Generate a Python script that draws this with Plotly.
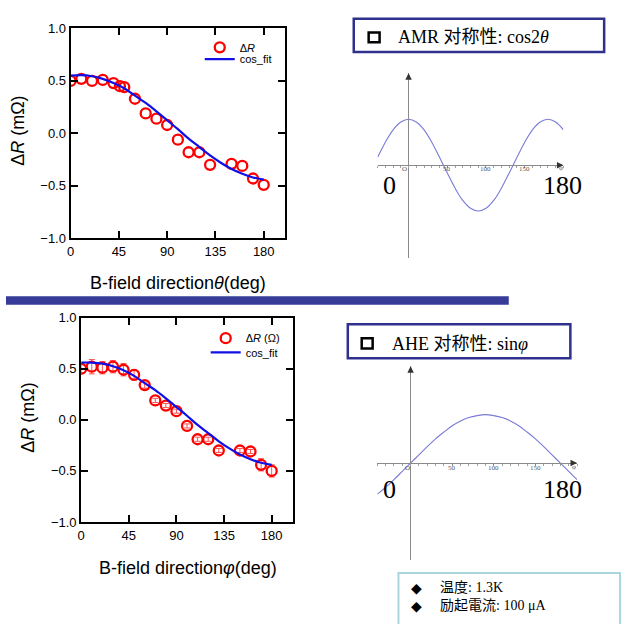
import plotly.graph_objects as go

W, H = 628, 624
def px(x): return x / W
def py(y): return 1 - y / H

# ---------------- data ----------------
theta_top = [0, 10, 20, 30, 40, 46, 50, 60, 70, 80, 90, 100, 110, 120, 130, 150, 160, 170, 180]
dr_top = [0.50, 0.52, 0.50, 0.51, 0.48, 0.45, 0.44, 0.33, 0.19, 0.14, 0.08, -0.06, -0.18, -0.18,
          -0.30, -0.29, -0.31, -0.43, -0.49]

phi_bot = [0, 10, 20, 30, 40, 50, 60, 70, 80, 90, 100, 110, 120, 130, 150, 160, 170, 180]
dr_bot = [0.50, 0.52, 0.51, 0.52, 0.49, 0.44, 0.34, 0.19, 0.14, 0.085, -0.06, -0.19, -0.19,
          -0.30, -0.30, -0.31, -0.44, -0.50]
err_bot = [0.04, 0.07, 0.06, 0.06, 0.06, 0.05, 0.03, 0.02, 0.02, 0.02, 0.02, 0.02, 0.02,
           0.02, 0.02, 0.02, 0.06, 0.06]

fit_angle = [0, 10, 20, 30, 40, 50, 60, 70, 80, 90, 100, 110, 120, 130, 140, 150, 160, 170, 180]
fit_top = [0.55, 0.555, 0.545, 0.52, 0.48, 0.43, 0.36, 0.29, 0.21, 0.125, 0.04, -0.05, -0.13,
           -0.21, -0.28, -0.34, -0.385, -0.42, -0.44]
fit_bot = [0.56, 0.56, 0.55, 0.525, 0.485, 0.43, 0.36, 0.29, 0.21, 0.125, 0.04, -0.05, -0.13,
           -0.21, -0.28, -0.34, -0.385, -0.42, -0.44]

y_ticks = [-1.0, -0.5, 0.0, 0.5, 1.0]
deg_ticks = [0, 45, 90, 135, 180]

schem_angle = [-40, -30, -20, -10, 0, 10, 20, 30, 40, 50, 60, 70, 80, 90, 100, 110, 120,
               130, 140, 150, 160, 170, 180, 190, 200]
amr_curve = [0.17, 0.5, 0.77, 0.94, 1.0, 0.94, 0.77, 0.5, 0.17, -0.17, -0.5, -0.77, -0.94,
             -1.0, -0.94, -0.77, -0.5, -0.17, 0.17, 0.5, 0.77, 0.94, 1.0, 0.94, 0.77]
ahe_curve = [-0.64, -0.5, -0.34, -0.17, 0.0, 0.17, 0.34, 0.5, 0.64, 0.77, 0.87, 0.94, 0.98,
             1.0, 0.98, 0.94, 0.87, 0.77, 0.64, 0.5, 0.34, 0.17, 0.0, -0.17, -0.34]
schem_ticks = [50, 100, 150]
schem_tick_text = ["50", "100", "150"]

info_lines = ["温度: 1.3K", "励起電流: 100 μA"]

RED = "#ff0000"
BLUE = "#1010e6"
SANS = "Liberation Sans, Arial"
SERIF = "Liberation Serif, Noto Sans CJK SC"

fig = go.Figure()

mk = dict(symbol="circle-open", size=10, color=RED, line=dict(width=2.3, color=RED))

# ---- top-left data plot ----
fig.add_trace(go.Scatter(x=theta_top, y=dr_top, mode="markers", name="Δ<i>R</i>", marker=mk,
                         xaxis="x", yaxis="y", legend="legend"))
fig.add_trace(go.Scatter(x=fit_angle, y=fit_top, mode="lines", name="cos_fit", line_shape="spline",
                         line=dict(color=BLUE, width=2.2), xaxis="x", yaxis="y", legend="legend3"))

# ---- bottom-left data plot ----
fig.add_trace(go.Scatter(x=phi_bot, y=dr_bot, mode="markers", name="Δ<i>R</i> (Ω)",
                         error_y=dict(type="data", array=err_bot, color="#ff5050", thickness=1, width=3),
                         marker=mk, xaxis="x2", yaxis="y2", legend="legend2"))
fig.add_trace(go.Scatter(x=fit_angle, y=fit_bot, mode="lines", name="cos_fit", line_shape="spline",
                         line=dict(color=BLUE, width=2.2), xaxis="x2", yaxis="y2", legend="legend4"))

# ---- schematic curves ----
fig.add_trace(go.Scatter(x=schem_angle, y=amr_curve, mode="lines", line_shape="spline",
                         line=dict(color="#7a7ad8", width=1.1), xaxis="x3", yaxis="y3", showlegend=False))
fig.add_trace(go.Scatter(x=schem_angle, y=ahe_curve, mode="lines", line_shape="spline",
                         line=dict(color="#7a7ad8", width=1.1), xaxis="x4", yaxis="y4", showlegend=False))

data_x = dict(range=[0, 200], tickvals=deg_ticks, ticks="inside", ticklen=7, tickwidth=1.6,
              tickcolor="black", showline=True, linewidth=2, linecolor="black", mirror="ticks",
              showgrid=False, zeroline=False, tickfont=dict(family=SANS, size=13, color="black"))
data_y = dict(range=[-1, 1], tickvals=y_ticks, tickformat=".1f", ticks="inside", ticklen=7,
              tickwidth=1.6, tickcolor="black", showline=True, linewidth=2, linecolor="black",
              mirror="ticks", showgrid=False, zeroline=False,
              tickfont=dict(family=SANS, size=13, color="black"))

schem_x = dict(range=[-40, 200], showline=True, linecolor="#8a8a8a", linewidth=1.3,
               tickvals=schem_ticks, ticks="outside", ticklen=2, tickwidth=1, tickcolor="#8a8a8a",
               minor=dict(dtick=10, ticks="outside", ticklen=2, tickcolor="#a0a0a0"),
               showticklabels=False, showgrid=False, zeroline=False, anchor="free")
schem_y = dict(showline=True, linecolor="#8a8a8a", linewidth=1.3, showticklabels=False,
               ticks="", showgrid=False, zeroline=False, anchor="free")

leg = dict(xanchor="left", yanchor="top", tracegroupgap=0,
           font=dict(family=SANS, size=11, color="black"), bgcolor="rgba(0,0,0,0)")

fig.update_layout(
    width=W, height=H, margin=dict(l=0, r=0, t=0, b=0),
    paper_bgcolor="white", plot_bgcolor="rgba(0,0,0,0)",
    xaxis=dict(domain=[px(67), px(283)], anchor="y", **data_x),
    yaxis=dict(domain=[py(237), py(22)], anchor="x", **data_y),
    xaxis2=dict(domain=[px(77.7), px(290.7)], anchor="y2", **data_x),
    yaxis2=dict(domain=[py(527.7), py(318.3)], anchor="x2", **data_y),
    xaxis3=dict(domain=[px(376), px(563)], position=py(162), **schem_x),
    yaxis3=dict(domain=[py(257), py(68)], range=[-2.02, 2.0], position=px(407), **schem_y),
    xaxis4=dict(domain=[px(375.7), px(576.7)], position=py(467.3), **schem_x),
    yaxis4=dict(domain=[py(566.7), py(368)], range=[-2.0, 2.0], position=px(409), **schem_y),
    legend=dict(x=px(197), y=py(26.5), **leg),
    legend3=dict(x=px(197), y=py(38.5), **leg),
    legend2=dict(x=px(203), y=py(324.5), **leg),
    legend4=dict(x=px(203), y=py(339), **leg),
)

shapes = [
    # divider bar
    dict(type="rect", xref="paper", yref="paper", x0=px(2), x1=px(508), y0=py(305), y1=py(296.5),
         fillcolor="#363c98", line=dict(width=0)),
    # AMR box
    dict(type="rect", xref="paper", yref="paper", x0=px(352), x1=px(604), y0=py(46), y1=py(12),
         line=dict(color="#30308e", width=2.5)),
    dict(type="rect", xref="paper", yref="paper", x0=px(367), x1=px(378), y0=py(36), y1=py(26),
         line=dict(color="black", width=2.5)),
    # AHE box
    dict(type="rect", xref="paper", yref="paper", x0=px(346), x1=px(570), y0=py(360), y1=py(325),
         line=dict(color="#30308e", width=2.5)),
    dict(type="rect", xref="paper", yref="paper", x0=px(360), x1=px(371), y0=py(350), y1=py(339.5),
         line=dict(color="black", width=2.5)),
    # info box
    dict(type="rect", xref="paper", yref="paper", x0=px(397), x1=px(620), y0=py(660), y1=py(580),
         line=dict(color="#a8d6de", width=2)),
]
fig.update_layout(shapes=shapes)

ann = []
def text(x, y, s, size, family, xanchor="center", angle=0, color="black", yanchor="middle", align="center"):
    ann.append(dict(x=px(x), y=py(y), xref="paper", yref="paper", text=s, showarrow=False,
                    xanchor=xanchor, yanchor=yanchor, textangle=angle, align=align,
                    font=dict(size=size, family=family, color=color)))

# axis titles
text(175, 283, "B-field direction<i>θ</i>(deg)", 18, SANS)
text(185, 575, "B-field direction<i>φ</i>(deg)", 18, SANS)
text(14, 127, "Δ<i>R</i> (mΩ)", 18, SANS, angle=-90)
text(24, 421, "Δ<i>R</i> (mΩ)", 18, SANS, angle=-90)

# box texts
text(395, 31, "AMR 对称性: cos2<i>θ</i>", 18, SERIF, xanchor="left")
text(388, 345, "AHE 对称性: sin<i>φ</i>", 18, SERIF, xanchor="left")

# schematic tick labels
for xr, ylab in (("x3", 166), ("x4", 472)):
    for v, t in zip(schem_ticks, schem_tick_text):
        ann.append(dict(x=v, y=py(ylab), xref=xr, yref="paper", text=t, showarrow=False,
                        xanchor="center", yanchor="middle",
                        font=dict(size=7, family="Liberation Serif", color="#555")))
text(403, 166, "O", 7, "Liberation Serif", color="#555")
text(561, 165, "φ", 7, "Liberation Serif", color="#555")
text(406, 472, "O", 7, "Liberation Serif", color="#555")
text(574, 471, "φ", 7, "Liberation Serif", color="#555")
text(388, 183, "0", 26, "Liberation Serif")
text(562, 183, "180", 26, "Liberation Serif")
text(388, 494, "0", 26, "Liberation Serif")
text(562, 494, "180", 26, "Liberation Serif")

# info box (two lines in one annotation each for bullets and texts)
text(408, 585, "<br>".join("◆" for _ in info_lines), 14, "DejaVu Sans",
     xanchor="left", yanchor="top", align="left")
text(437, 585, "<br>".join(info_lines), 14, "Liberation Serif, Noto Sans CJK JP",
     xanchor="left", yanchor="top", align="left")

# axis arrows of schematics
for xr, yr in (("x3", "y3"), ("x4", "y4")):
    ann.append(dict(x=200, y=0, xref=xr, yref=yr, ax=192, ay=0, axref=xr, ayref=yr,
                    text="", showarrow=True, arrowhead=2, arrowsize=1, arrowwidth=1.3,
                    arrowcolor="#333", standoff=0))
    ann.append(dict(x=0, y=2.0, xref=xr, yref=yr, ax=0, ay=1.85, axref=xr, ayref=yr,
                    text="", showarrow=True, arrowhead=2, arrowsize=1, arrowwidth=1.3,
                    arrowcolor="#333", standoff=0))

fig.update_layout(annotations=ann)
fig.write_html("out.html")
